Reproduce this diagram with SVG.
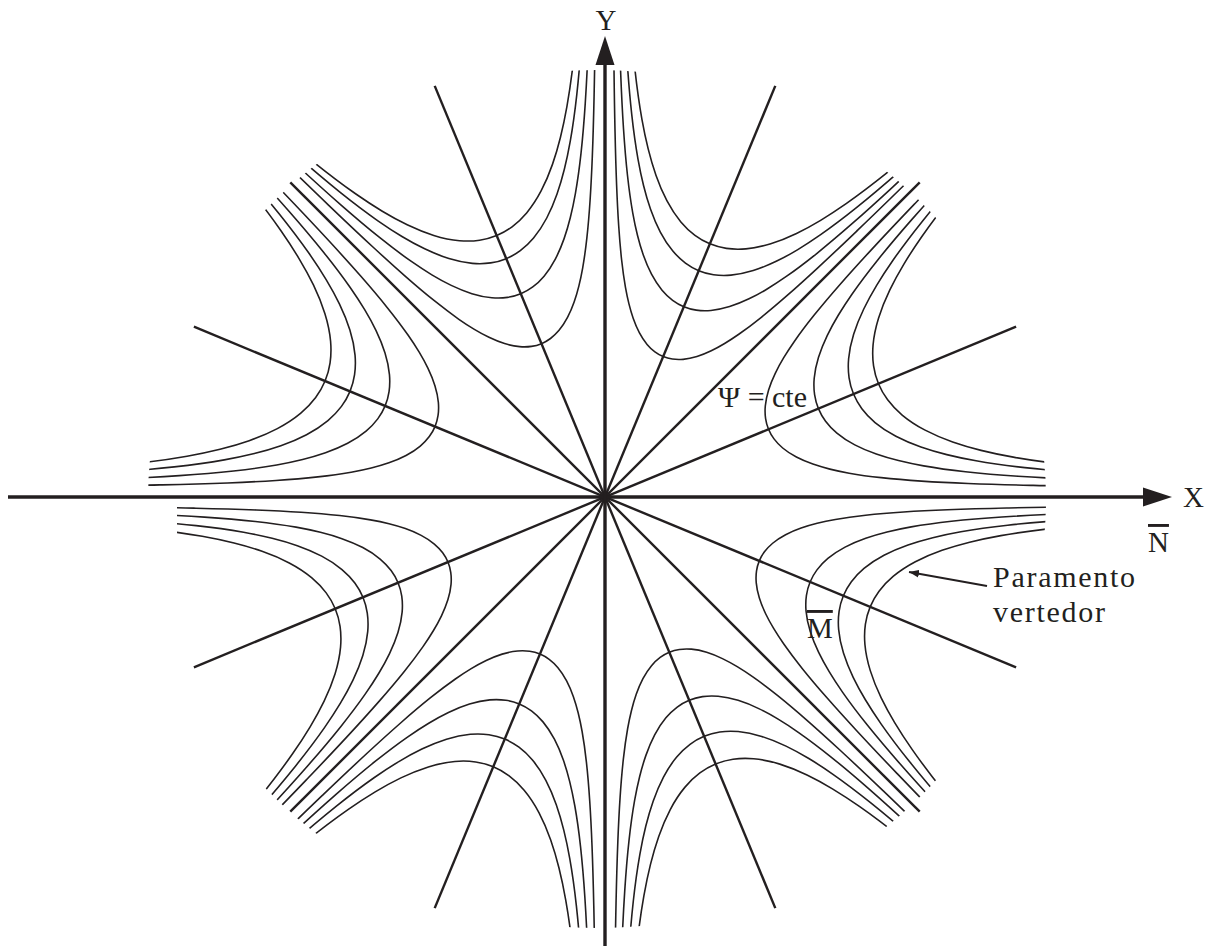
<svg xmlns="http://www.w3.org/2000/svg" width="1208" height="946" viewBox="0 0 1208 946">
<style>
.c{fill:none;stroke:#231f20;stroke-width:1.6;vector-effect:non-scaling-stroke}
.r{stroke:#231f20;stroke-width:2.4;fill:none}
.ax{stroke:#231f20;stroke-width:3.4;fill:none}
.ah{fill:#231f20;stroke:none}
.t{font-family:"Liberation Serif","Times New Roman",serif;fill:#231f20}
.ol{text-decoration:overline}
.ld{stroke:#231f20;stroke-width:1.8;fill:none}
</style>
<defs>
<path id="u" class="c" d="M287.888,-113.150 C248.676,-96.506 236.812,-91.263 224.807,-85.980 C208.800,-78.937 199.894,-74.879 192.433,-71.439 C181.241,-66.279 174.360,-62.952 168.625,-60.123 C159.067,-55.408 153.220,-52.299 148.367,-49.634 C141.087,-45.637 136.436,-42.806 132.594,-40.350 C128.752,-37.894 125.862,-35.874 123.409,-34.061 C120.138,-31.644 117.682,-29.609 115.618,-27.764 C112.523,-24.996 110.329,-22.662 108.548,-20.522 C106.174,-17.669 104.564,-15.177 103.345,-12.838 C102.126,-10.499 101.315,-8.321 100.782,-6.208 C100.249,-4.095 100,-2.048 100,0 C100,2.048 100.249,4.095 100.782,6.208 C101.315,8.321 102.126,10.499 103.345,12.838 C104.564,15.177 106.174,17.669 108.548,20.522 C110.329,22.662 112.523,24.996 115.618,27.764 C117.682,29.609 120.138,31.644 123.409,34.061 C125.862,35.874 128.752,37.894 132.594,40.350 C136.436,42.806 141.087,45.637 148.367,49.634 C153.220,52.299 159.067,55.408 168.625,60.123 C174.360,62.952 181.241,66.279 192.433,71.439 C199.894,74.879 208.800,78.937 224.807,85.980 C236.812,91.263 248.676,96.506 287.888,113.150"/>
<clipPath id="clip"><ellipse cx="597" cy="499" rx="449" ry="429"/></clipPath>
<clipPath id="clipL"><rect x="177" y="0" width="1031" height="946"/></clipPath>
<marker id="arr" markerUnits="userSpaceOnUse" markerWidth="10" markerHeight="8" viewBox="0 0 9 7" refX="9" refY="3.5" orient="auto"><path d="M0,0 L9,3.5 L0,7 z" fill="#231f20"/></marker>
</defs>

<g id="streamlines" clip-path="url(#clip)">
<g id="sector-ne-upper" transform="translate(605,497) rotate(-67.5)">
<use href="#u" transform="scale(1.52)"/><use href="#u" transform="scale(2.06)"/><use href="#u" transform="scale(2.45)"/><use href="#u" transform="scale(2.74)"/>
</g>
<g id="sector-ne-lower" transform="translate(605,497) rotate(-22.5)">
<use href="#u" transform="scale(1.77)"/><use href="#u" transform="scale(2.31)"/><use href="#u" transform="scale(2.69)"/><use href="#u" transform="scale(2.96)"/>
</g>
<g id="sector-se-upper" transform="translate(605,497) rotate(22.5)">
<use href="#u" transform="scale(1.67)"/><use href="#u" transform="scale(2.22)"/><use href="#u" transform="scale(2.58)"/><use href="#u" transform="scale(2.87)"/>
</g>
<g id="sector-se-lower" transform="translate(605,497) rotate(67.5)">
<use href="#u" transform="scale(1.68)"/><use href="#u" transform="scale(2.20)"/><use href="#u" transform="scale(2.59)"/><use href="#u" transform="scale(2.89)"/>
</g>
<g id="sector-sw-lower" transform="translate(605,497) rotate(112.5)">
<use href="#u" transform="scale(1.70)"/><use href="#u" transform="scale(2.24)"/><use href="#u" transform="scale(2.62)"/><use href="#u" transform="scale(2.92)"/>
</g>
<g clip-path="url(#clipL)">
<g id="sector-sw-upper" transform="translate(605,497) rotate(157.5)">
<use href="#u" transform="scale(1.70)"/><use href="#u" transform="scale(2.24)"/><use href="#u" transform="scale(2.62)"/><use href="#u" transform="scale(2.92)"/>
</g>
</g>
<g id="sector-nw-lower" transform="translate(605,497) rotate(-157.5)">
<use href="#u" transform="scale(1.84)"/><use href="#u" transform="scale(2.38)"/><use href="#u" transform="scale(2.76)"/><use href="#u" transform="scale(3.03)"/>
</g>
<g id="sector-nw-upper" transform="translate(605,497) rotate(-112.5)">
<use href="#u" transform="scale(1.66)"/><use href="#u" transform="scale(2.20)"/><use href="#u" transform="scale(2.58)"/><use href="#u" transform="scale(2.83)"/>
</g>
</g>

<g id="radial-lines">
<line class="r" x1="193.9" y1="667.3" x2="1016.1" y2="326.7"/>
<line class="r" x1="193.9" y1="326.7" x2="1016.1" y2="667.3"/>
<line class="r" x1="290.3" y1="811.7" x2="919.7" y2="182.3"/>
<line class="r" x1="290.3" y1="182.3" x2="919.7" y2="811.7"/>
<line class="r" x1="434.7" y1="908.1" x2="775.3" y2="85.9"/>
<line class="r" x1="434.7" y1="85.9" x2="775.3" y2="908.1"/>
</g>

<g id="axes">
<line class="ax" x1="8" y1="497" x2="1146" y2="497"/>
<polygon class="ah" points="1143,487.5 1172,497 1143,506.5"/>
<line class="ax" x1="605" y1="946" x2="605" y2="62"/>
<polygon class="ah" points="595.5,65 605,36 614.5,65"/>
</g>

<g id="connectors">
<line class="ld" x1="987" y1="586" x2="909" y2="572" marker-end="url(#arr)"/>
</g>

<g id="labels">
<text id="label-y" class="t" x="606" y="30" font-size="29" text-anchor="middle">Y</text>
<text id="label-x" class="t" x="1183" y="507" font-size="29">X</text>
<text id="label-n" class="t ol" x="1148" y="552" font-size="29">N</text>
<text id="label-m" class="t ol" x="807" y="638" font-size="29">M</text>
<text id="label-psi" class="t" x="718" y="407" font-size="30">Ψ = cte</text>
<text id="label-paramento" class="t" x="993" y="587" font-size="30" textLength="142" lengthAdjust="spacing">Paramento</text>
<text id="label-vertedor" class="t" x="993" y="622" font-size="30" textLength="112" lengthAdjust="spacing">vertedor</text>
</g>
</svg>
